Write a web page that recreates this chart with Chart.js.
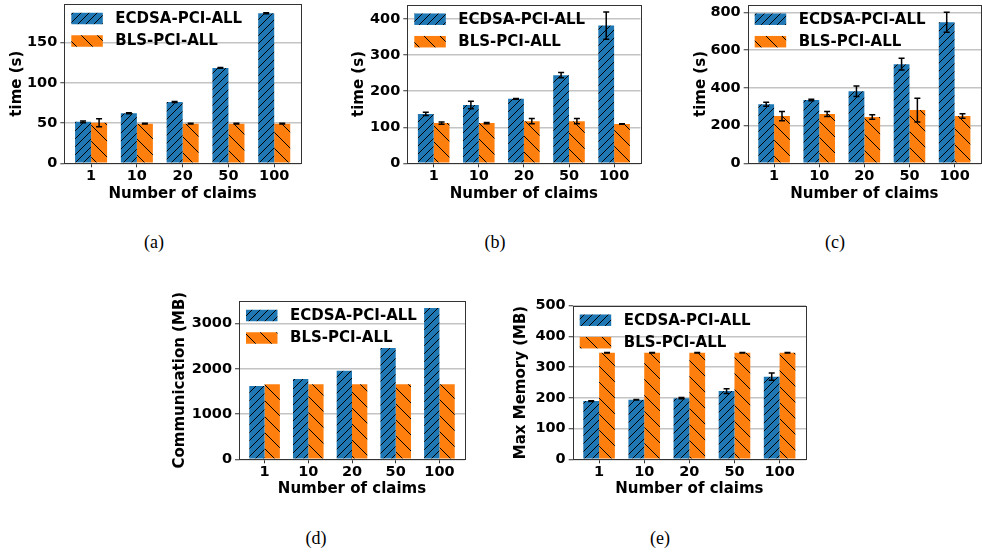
<!DOCTYPE html>
<html>
<head>
<meta charset="utf-8">
<script src="https://cdn.jsdelivr.net/npm/chart.js@4.4.0/dist/chart.umd.min.js"></script>
<style>
  html, body { margin: 0; padding: 0; background: #fff; overflow: hidden; width: 982px; height: 554px; }
  body { position: relative; }
  canvas { position: absolute; }
  .cap { position: absolute; font-family: "Liberation Serif", "DejaVu Serif", serif; font-size: 18px; transform: translate(-50%, -50%); color: #000; }
</style>
</head>
<body>
<canvas id="chartA"></canvas>
<canvas id="chartB"></canvas>
<canvas id="chartC"></canvas>
<canvas id="chartD"></canvas>
<canvas id="chartE"></canvas>
<div class="cap" style="left:154px;top:242px">(a)</div>
<div class="cap" style="left:495px;top:242px">(b)</div>
<div class="cap" style="left:835px;top:242px">(c)</div>
<div class="cap" style="left:316px;top:538px">(d)</div>
<div class="cap" style="left:660px;top:538px">(e)</div>
<script>
const claims = ["1", "10", "20", "50", "100"];
const seriesNames = ["ECDSA-PCI-ALL", "BLS-PCI-ALL"];
const xLabel = "Number of claims";

// (a) time (s)
const ecdsaA = [51.5, 62.2, 76.2, 118.5, 186.5];
const ecdsaErrA = [1.2, 0.5, 0.5, 0.5, 0.7];
const blsA = [50.5, 49.3, 49.3, 49.3, 49.3];
const blsErrA = [5, 0.5, 0.5, 0.5, 0.5];
const yTicksA = [0, 50, 100, 150];

// (b) time (s)
const ecdsaB = [137, 161.5, 179, 244.5, 382];
const ecdsaErrB = [4.5, 10.5, 1, 7.5, 38];
const blsB = [111.5, 111.5, 117, 117, 109];
const blsErrB = [3, 1.5, 7.5, 7, 1];
const yTicksB = [0, 100, 200, 300, 400];

// (c) time (s)
const ecdsaC = [313, 335, 382, 525, 747];
const ecdsaErrC = [11, 4, 28, 31, 53];
const blsC = [250, 261, 245, 282, 250];
const blsErrC = [24, 13, 12, 63, 12];
const yTicksC = [0, 200, 400, 600, 800];

// (d) communication (MB)
const ecdsaD = [1621, 1776, 1960, 2461, 3345];
const blsD = [1658, 1658, 1658, 1658, 1658];
const yTicksD = [0, 1000, 2000, 3000];

// (e) max memory (MB)
const ecdsaE = [189.5, 194, 199, 222, 269];
const ecdsaErrE = [1, 1, 2, 7.5, 12];
const blsE = [346.5, 346.5, 346.5, 346.5, 346.5];
const blsErrE = [0.8, 0.8, 0.8, 0.8, 0.8];
const yTicksE = [0, 100, 200, 300, 400, 500];

const BLUE = "#1f77b4";
const ORANGE = "#ff7f0e";
const FONT = "DejaVu Sans";

Chart.defaults.font.family = FONT;
Chart.defaults.font.weight = "bold";
Chart.defaults.color = "#000";

function hatch(color, step, rising, width) {
  const c = document.createElement("canvas");
  c.width = step; c.height = step;
  const g = c.getContext("2d");
  g.fillStyle = color;
  g.fillRect(0, 0, step, step);
  g.strokeStyle = "#000";
  g.lineWidth = width;
  g.beginPath();
  for (let k = -1; k <= 1; k++) {
    if (rising) {
      g.moveTo(k * step, step); g.lineTo(k * step + step, 0);
    } else {
      g.moveTo(k * step, 0); g.lineTo(k * step + step, step);
    }
  }
  g.stroke();
  return g.createPattern(c, "repeat");
}
const bluePattern = hatch(BLUE, 8, true, 1);
const orangePattern = hatch(ORANGE, 16, false, 1);

// spines, legend and error bars on top
const decorations = {
  id: "decorations",
  afterDraw(chart) {
    const { ctx, chartArea: a } = chart;
    const y = chart.scales.y;
    ctx.save();

    // error bars
    ctx.strokeStyle = "#000";
    ctx.lineWidth = 1.5;
    chart.data.datasets.forEach((ds, di) => {
      if (!ds.err) return;
      chart.getDatasetMeta(di).data.forEach((bar, i) => {
        const v = ds.data[i].y, e = ds.err[i];
        const y1 = y.getPixelForValue(v - e), y2 = y.getPixelForValue(v + e);
        ctx.beginPath();
        ctx.moveTo(bar.x, y1); ctx.lineTo(bar.x, y2);
        ctx.moveTo(bar.x - 3, y1); ctx.lineTo(bar.x + 3, y1);
        ctx.moveTo(bar.x - 3, y2); ctx.lineTo(bar.x + 3, y2);
        ctx.stroke();
      });
    });

    // frame
    ctx.strokeStyle = "#333";
    ctx.lineWidth = 1;
    ctx.strokeRect(Math.round(a.left) + 0.5, Math.round(a.top) + 0.5,
      Math.round(a.right) - Math.round(a.left), Math.round(a.bottom) - Math.round(a.top));

    // legend (no frame)
    ctx.font = "bold 15px " + FONT;
    ctx.textBaseline = "middle";
    chart.data.datasets.forEach((ds, di) => {
      const cy = a.top + 14.5 + di * 22.5;
      const px = a.left + 7;
      ctx.fillStyle = ds.backgroundColor;
      ctx.fillRect(px, cy - 5.75, 31.5, 11.5);
      ctx.fillStyle = "#000";
      ctx.fillText(ds.label, a.left + 51, cy + 0.5);
    });
    ctx.restore();
  }
};

function panel(id, box, yTitle, yMax, yTicks, ecdsa, ecdsaErr, bls, blsErr) {
  const cx = Math.floor(box.yTitleX - 15);
  const cy = Math.floor(box.T - 16);
  const cw = Math.min(982, Math.ceil(box.R + 2)) - cx;
  const ch = Math.ceil(box.xTitleY + 15) - cy;
  const canvas = document.getElementById(id);
  canvas.width = cw; canvas.height = ch;
  canvas.style.left = cx + "px"; canvas.style.top = cy + "px";

  const titleFont = { size: 15, weight: "bold", lineHeight: 1.2 };
  const tickFont = { size: 14.5, weight: "bold" };

  new Chart(canvas.getContext("2d"), {
    type: "bar",
    data: {
      datasets: [
        {
          label: seriesNames[0],
          data: ecdsa.map((v, i) => ({ x: i, y: v })),
          err: ecdsaErr,
          backgroundColor: bluePattern,
          borderWidth: 0
        },
        {
          label: seriesNames[1],
          data: bls.map((v, i) => ({ x: i, y: v })),
          err: blsErr,
          backgroundColor: orangePattern,
          borderWidth: 0
        }
      ]
    },
    options: {
      responsive: false,
      animation: false,
      devicePixelRatio: 1,
      categoryPercentage: 0.7,
      barPercentage: 1,
      layout: { padding: { left: 0, top: box.T - cy, right: cx + cw - box.R, bottom: 0 } },
      plugins: { legend: { display: false }, tooltip: { enabled: false } },
      scales: {
        x: {
          type: "linear",
          min: -0.585,
          max: 4.585,
          offset: false,
          afterBuildTicks(s) { s.ticks = claims.map((_, i) => ({ value: i })); },
          afterFit(s) { s.height = cy + ch - box.B; },
          ticks: {
            font: tickFont,
            padding: 0,
            maxRotation: 0,
            autoSkip: false,
            callback: (v) => claims[v] ?? ""
          },
          grid: { drawOnChartArea: false, drawTicks: true, tickLength: 4, color: "#333", offset: false },
          border: { display: false },
          title: { display: true, text: xLabel, font: titleFont, padding: { top: 0, bottom: 6 } }
        },
        y: {
          min: 0,
          max: yMax,
          z: 1,
          afterBuildTicks(s) { s.ticks = yTicks.map((v) => ({ value: v })); },
          afterFit(s) { s.width = box.L - cx; },
          ticks: { font: tickFont, padding: 3, callback: (v) => String(v) },
          grid: { color: "rgba(176,176,176,0.75)", lineWidth: 1.5, tickColor: "#333", tickWidth: 1, tickLength: 4 },
          border: { display: false },
          title: { display: true, text: yTitle, font: titleFont, padding: { top: 6, bottom: 0 } }
        }
      }
    },
    plugins: [decorations]
  });
}

panel("chartA", { L: 64.3, T: 4, R: 301, B: 163.3, yTitleX: 17, xTitleY: 193.5 },
  "time (s)", 198, yTicksA, ecdsaA, ecdsaErrA, blsA, blsErrA);
panel("chartB", { L: 407.3, T: 4.7, R: 640.5, B: 163.3, yTitleX: 359.5, xTitleY: 193.5 },
  "time (s)", 440, yTicksB, ecdsaB, ecdsaErrB, blsB, blsErrB);
panel("chartC", { L: 747.7, T: 4.7, R: 981, B: 163.3, yTitleX: 701, xTitleY: 193.5 },
  "time (s)", 840, yTicksC, ecdsaC, ecdsaErrC, blsC, blsErrC);
panel("chartD", { L: 239, T: 301, R: 465, B: 459.3, yTitleX: 180, xTitleY: 489 },
  "Communication (MB)", 3500, yTicksD, ecdsaD, null, blsD, null);
panel("chartE", { L: 572.7, T: 305.7, R: 806, B: 459.3, yTitleX: 521.5, xTitleY: 489 },
  "Max Memory (MB)", 500, yTicksE, ecdsaE, ecdsaErrE, blsE, blsErrE);
</script>
</body>
</html>
